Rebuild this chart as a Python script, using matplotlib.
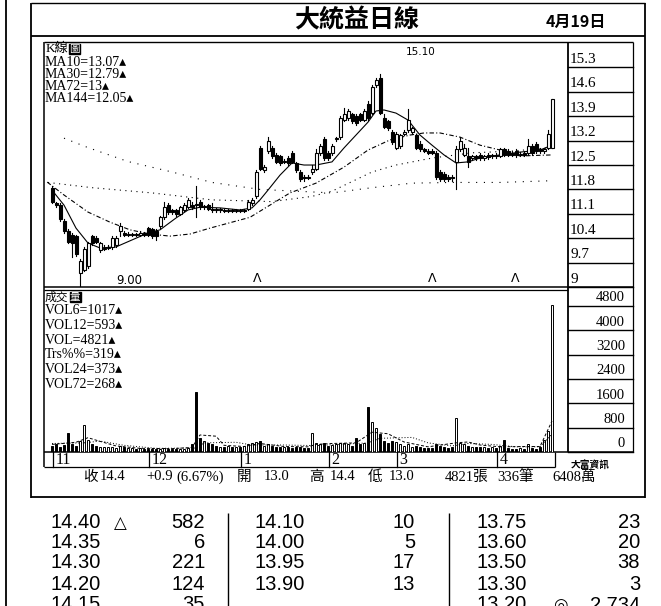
import matplotlib
matplotlib.use("Agg")
import matplotlib.pyplot as plt
from matplotlib.transforms import blended_transform_factory

# daily candles, Nov .. Apr 19
OPEN = [11.85, 11.40, 11.35, 10.90, 10.60, 10.50, 10.45, 9.40, 9.50, 9.60,
        10.45, 10.40, 10.05, 10.10, 10.12, 10.15, 10.20, 10.60, 10.55, 10.50,
        10.50, 10.52, 10.50, 10.55, 10.70, 10.65, 10.60, 10.75, 11.00, 11.35,
        11.20, 11.22, 11.10, 11.20, 11.30, 11.35, 11.38, 11.45, 11.30, 11.35,
        11.25, 11.22, 11.20, 11.22, 11.18, 11.20, 11.18, 11.20, 11.17, 11.25,
        11.40, 11.60, 13.00, 12.35, 12.90, 13.00, 12.80, 12.75, 12.60, 12.70,
        12.85, 12.55, 12.30, 12.15, 12.15, 12.30, 12.40, 12.85, 13.25, 12.85,
        12.85, 13.25, 13.30, 13.80, 13.85, 13.95, 13.90, 13.95, 13.80, 14.25,
        14.00, 14.80, 15.00, 13.85, 13.75, 13.45, 13.00, 13.05, 13.40, 13.50,
        13.45, 13.35, 13.10, 12.95, 12.90, 12.90, 12.85, 12.30, 12.25, 12.15,
        12.15, 12.60, 12.95, 12.80, 12.75, 12.70, 12.75, 12.80, 12.70, 12.80,
        12.75, 12.80, 12.75, 12.95, 12.90, 12.85, 12.90, 12.80, 12.85, 12.85,
        13.05, 13.10, 12.95, 12.90, 13.00, 13.00]
HIGH = [11.90, 11.45, 11.40, 10.95, 10.65, 10.55, 10.50, 9.80, 10.15, 10.30,
        10.50, 10.45, 10.30, 10.20, 10.20, 10.45, 10.45, 10.85, 10.60, 10.58,
        10.56, 10.56, 10.60, 10.58, 10.72, 10.70, 10.65, 11.05, 11.45, 11.40,
        11.25, 11.25, 11.32, 11.40, 11.55, 11.45, 11.90, 11.50, 11.35, 11.38,
        11.40, 11.26, 11.26, 11.25, 11.24, 11.23, 11.24, 11.23, 11.24, 11.50,
        11.55, 12.35, 13.05, 12.50, 13.30, 13.05, 12.85, 12.80, 12.66, 12.75,
        12.90, 12.60, 12.35, 12.20, 12.20, 12.50, 12.95, 13.10, 13.30, 12.90,
        13.10, 13.30, 13.90, 14.15, 14.10, 14.00, 13.95, 14.00, 14.10, 14.35,
        14.80, 15.00, 15.10, 13.95, 13.80, 13.50, 13.45, 13.40, 13.50, 14.10,
        13.60, 13.40, 13.20, 13.00, 12.95, 12.95, 12.90, 12.35, 12.30, 12.20,
        12.20, 13.05, 13.30, 13.10, 13.00, 12.80, 12.80, 12.85, 12.80, 12.85,
        12.82, 12.85, 13.00, 13.00, 12.95, 12.90, 12.95, 12.88, 12.90, 13.25,
        13.10, 13.15, 13.00, 13.00, 13.50, 14.40]
LOW = [11.40, 11.30, 10.90, 10.55, 10.25, 9.85, 9.90, 9.00, 9.45, 9.55,
       10.20, 10.25, 10.00, 10.05, 10.10, 10.10, 10.15, 10.45, 10.45, 10.45,
       10.46, 10.46, 10.46, 10.46, 10.45, 10.40, 10.35, 10.70, 10.95, 11.10,
       11.10, 11.05, 11.08, 11.18, 11.28, 11.25, 11.00, 11.25, 11.25, 11.22,
       11.15, 11.16, 11.16, 11.15, 11.15, 11.14, 11.15, 11.14, 11.14, 11.20,
       11.35, 11.55, 12.35, 12.30, 12.85, 12.70, 12.55, 12.50, 12.55, 12.50,
       12.55, 12.30, 12.05, 12.05, 12.10, 12.25, 12.35, 12.80, 12.65, 12.65,
       12.80, 13.20, 13.25, 13.75, 13.80, 13.70, 13.65, 13.75, 13.75, 13.80,
       13.95, 14.75, 13.95, 13.55, 13.50, 13.10, 12.95, 13.00, 13.35, 13.45,
       13.40, 12.95, 12.90, 12.88, 12.82, 12.82, 12.10, 12.05, 12.05, 12.05,
       12.05, 11.80, 12.90, 12.75, 12.45, 12.65, 12.65, 12.65, 12.65, 12.68,
       12.70, 12.70, 12.72, 12.75, 12.75, 12.75, 12.72, 12.75, 12.75, 12.80,
       12.80, 12.85, 12.85, 12.85, 12.95, 13.00]
CLOSE = [11.45, 11.35, 10.95, 10.60, 10.30, 10.25, 9.95, 9.75, 10.10, 10.25,
         10.25, 10.30, 10.25, 10.12, 10.15, 10.40, 10.40, 10.75, 10.50, 10.52,
         10.52, 10.50, 10.55, 10.50, 10.50, 10.45, 10.45, 11.00, 11.30, 11.15,
         11.15, 11.10, 11.30, 11.35, 11.50, 11.30, 11.35, 11.30, 11.32, 11.25,
         11.22, 11.20, 11.22, 11.18, 11.20, 11.18, 11.20, 11.17, 11.20, 11.45,
         11.50, 12.30, 12.40, 12.45, 13.20, 12.75, 12.60, 12.55, 12.60, 12.55,
         12.60, 12.35, 12.10, 12.12, 12.12, 12.40, 12.85, 13.05, 12.70, 12.70,
         13.05, 13.25, 13.85, 13.95, 14.05, 13.75, 13.70, 13.80, 14.05, 13.85,
         14.75, 14.95, 14.00, 13.60, 13.55, 13.15, 13.40, 13.35, 13.45, 13.80,
         13.55, 13.00, 12.95, 12.90, 12.85, 12.85, 12.15, 12.10, 12.10, 12.10,
         12.12, 12.95, 13.20, 13.00, 12.60, 12.75, 12.70, 12.70, 12.75, 12.72,
         12.78, 12.75, 12.95, 12.80, 12.80, 12.80, 12.78, 12.82, 12.80, 13.05,
         12.85, 12.90, 12.90, 12.95, 13.40, 14.40]
VOLUME = [200, 250, 180, 220, 620, 250, 200, 350, 880, 400,
          250, 200, 180, 150, 150, 170, 140, 200, 150, 130,
          120, 110, 120, 100, 110, 100, 90, 110, 120, 100,
          90, 100, 90, 110, 120, 250, 1970, 450, 350, 300,
          250, 200, 180, 160, 200, 150, 180, 170, 200, 250,
          300, 330, 350, 200, 250, 200, 180, 150, 160, 170,
          140, 150, 170, 130, 140, 620, 300, 250, 280, 200,
          220, 250, 300, 280, 250, 200, 460, 250, 300, 1480,
          1000, 800, 600, 350, 300, 350, 330, 250, 200, 250,
          180, 200, 150, 140, 130, 120, 250, 200, 150, 140,
          180, 1120, 300, 250, 200, 180, 150, 170, 160, 140,
          150, 130, 200, 400, 120, 100, 110, 130, 100, 260,
          120, 100, 150, 400, 700, 4821]

# moving averages (bar index, value)
MA10_IDX = [0, 3, 6, 9, 12, 16, 20, 24, 27, 31, 34, 37, 42, 47, 50, 52, 54, 57, 60,
            63, 66, 70, 73, 76, 79, 81, 83, 86, 89, 92, 95, 98, 101, 104, 107, 112,
            117, 122, 125]
MA10_VAL = [11.78, 11.35, 10.69, 10.26, 10.12, 10.15, 10.35, 10.55, 10.64, 10.98,
            11.21, 11.29, 11.27, 11.21, 11.27, 11.50, 11.78, 12.21, 12.56, 12.50,
            12.50, 12.59, 12.99, 13.36, 13.73, 14.05, 14.08, 13.99, 13.79, 13.36,
            13.07, 12.79, 12.56, 12.59, 12.70, 12.79, 12.87, 12.93, 13.07]
MA30_IDX = [-1.2, 3, 9, 14.5, 19.5, 24.5, 29.5, 34.5, 39.5, 45, 49.5, 54.5, 59.5,
            66, 73, 79, 84.5, 89.5, 93, 97, 102, 107, 112, 117, 125]
MA30_VAL = [12.01, 11.64, 11.15, 10.86, 10.64, 10.52, 10.46, 10.52, 10.69, 10.86,
            11.00, 11.35, 11.70, 11.98, 12.44, 12.93, 13.22, 13.36, 13.42, 13.42,
            13.30, 13.07, 12.93, 12.76, 12.79]
MA72_IDX = [-1, 10, 25, 40, 55, 65, 70, 80, 86, 95, 105, 115, 125]
MA72_VAL = [12.00, 11.85, 11.70, 11.50, 11.45, 11.60, 11.75, 12.30, 12.50, 12.70,
            12.85, 12.90, 13.00]
MA144_IDX = [3, 9, 19, 30, 40, 52, 70, 80, 90, 100, 112, 125]
MA144_VAL = [13.27, 13.00, 12.60, 12.30, 12.00, 11.80, 11.70, 11.85, 11.98, 12.00,
             12.00, 12.05]
VOL6_IDX = [0, 6, 9, 12, 16, 22, 30, 35, 37, 41, 43, 48, 52, 58, 64, 66, 70, 76, 80,
            84, 88, 94, 101, 104, 107, 112, 118, 122, 125]
VOL6_VAL = [250, 320, 470, 350, 200, 120, 110, 150, 560, 520, 220, 180, 280, 180,
            170, 250, 280, 300, 650, 600, 330, 170, 300, 330, 230, 170, 180, 180, 1017]
VOL12_IDX = [0, 8, 12, 18, 26, 36, 38, 46, 50, 58, 66, 72, 79, 82, 90, 94, 100, 104,
             110, 116, 122, 125]
VOL12_VAL = [280, 300, 360, 220, 120, 130, 300, 320, 230, 230, 210, 250, 300, 450,
             480, 300, 200, 280, 250, 170, 170, 593]

PRICE_TICKS = [9, 9.7, 10.4, 11.1, 11.8, 12.5, 13.2, 13.9, 14.6, 15.3]
PRICE_TICK_LABELS = ["9", "9.7", "10.4", "11.1", "11.8", "12.5", "13.2", "13.9", "14.6", "15.3"]
VOL_TICKS = [0, 800, 1600, 2400, 3200, 4000, 4800]
MONTH_LABELS = ["11", "12", "1", "2", "3", "4"]
MONTH_START = [0, 24, 47, 69, 86, 111]

MA_LEGEND = ["MA10=13.07▴", "MA30=12.79▴", "MA72=13▴", "MA144=12.05▴"]
VOL_LEGEND = ["VOL6=1017▴", "VOL12=593▴", "VOL=4821▴", "Trs%%=319▴", "VOL24=373▴", "VOL72=268▴"]

# bid / ask book under the chart (last row is cut by the page edge)
BOOK_PRICE_1 = ["14.40", "14.35", "14.30", "14.20", "14.15"]
BOOK_QTY_1 = ["582", "6", "221", "124", "35"]
BOOK_PRICE_2 = ["14.10", "14.00", "13.95", "13.90", ""]
BOOK_QTY_2 = ["10", "5", "17", "13", ""]
BOOK_PRICE_3 = ["13.75", "13.60", "13.50", "13.30", "13.20"]
BOOK_QTY_3 = ["23", "20", "38", "3", "2,734"]

SERIF = ["Liberation Serif", "Noto Sans CJK TC", "DejaVu Sans"]
CJK = ["Noto Sans CJK TC", "DejaVu Sans"]
W, H = 661, 606

fig = plt.figure(figsize=(W / 100, H / 100), dpi=100, facecolor="white")
bg = fig.add_axes([0, 0, 1, 1])
bg.set_xlim(0, W)
bg.set_ylim(H, 0)
bg.axis("off")


def pxAxes(left, top, right, bottom):
    ax = fig.add_axes([left / W, 1 - bottom / H, (right - left) / W, (bottom - top) / H])
    ax.patch.set_alpha(0)
    for s in ax.spines.values():
        s.set_visible(False)
    ax.set_xticks([])
    ax.set_yticks([])
    return ax


def hline(y, x0, x1, lw=1.1):
    bg.plot([x0, x1], [y, y], color="black", lw=lw, solid_capstyle="butt")


def vline(x, y0, y1, lw=1.1):
    bg.plot([x, x], [y0, y1], color="black", lw=lw, solid_capstyle="butt")


# frames
vline(6, 0, H, 1.3)
hline(3, 31, 645, 1.0)
vline(31, 3, 498, 1.3)
vline(645, 3, 498, 1.3)
hline(497, 31, 645, 1.3)
hline(36, 31, 645, 1.3)
hline(42, 44, 633, 1.0)
vline(44, 42, 467)
vline(568, 42, 452, 1.3)
vline(633, 42, 452, 0.9)
hline(287, 44, 633)
hline(290, 44, 568, 0.9)
hline(452, 44, 633)
hline(467, 44, 555, 0.9)
vline(555, 452, 467, 0.9)

bg.text(357, 20, "大統益日線", family=CJK, fontsize=18, fontweight="bold", ha="center", va="center")
bg.text(576, 22, "4月19日", family=CJK, fontsize=11.5, fontweight="bold", ha="center", va="center")

# price panel
pax = pxAxes(44, 42, 568, 287)
pax.set_xlim(-2, 129)
pax.set_ylim(9.0, 16.03)
for i, (o, h, l, c) in enumerate(zip(OPEN, HIGH, LOW, CLOSE)):
    pax.plot([i, i], [l, h], color="black", lw=0.8, zorder=2)
    body = max(abs(c - o), 0.025)
    if c >= o:
        pax.bar(i, body, bottom=min(o, c), width=0.75, facecolor="white",
                edgecolor="black", linewidth=0.8, zorder=3)
    else:
        pax.bar(i, body, bottom=c, width=0.75, facecolor="black",
                edgecolor="black", linewidth=0.8, zorder=3)
pax.plot(MA10_IDX, MA10_VAL, color="black", lw=0.8, zorder=1)
pax.plot(MA30_IDX, MA30_VAL, color="black", lw=0.8, ls=(0, (4, 2, 1, 2)), zorder=1)
pax.plot(MA72_IDX, MA72_VAL, color="black", lw=0.8, ls=(0, (1, 4)), zorder=1)
pax.plot(MA144_IDX, MA144_VAL, color="black", lw=0.8, ls=(0, (1, 6)), zorder=1)

ptrans = pax.get_yaxis_transform()
for v, lab in zip(PRICE_TICKS, PRICE_TICK_LABELS):
    pax.plot([1.0, 1.124], [v, v], color="black", lw=1.0, transform=ptrans, clip_on=False)
    pax.text(1.004, v + 0.04, lab, transform=ptrans, family=SERIF, fontsize=11,
             ha="left", va="bottom")

bg.text(46, 49, "K線", family=SERIF, fontsize=9.5, va="center", ha="left")
bg.text(69, 49, "圖", family=CJK, fontsize=7.5, va="center", ha="left",
        color="white", bbox=dict(boxstyle="square,pad=0.02", fc="black", ec="black"))
for k, s in enumerate(MA_LEGEND):
    bg.text(45, 63 + k * 12, s, family=SERIF, fontsize=10, va="center", ha="left")
bg.text(421, 52, "15.10", fontsize=7.5, ha="center", va="center", family="DejaVu Sans")
bg.text(129, 280, "9.00", fontsize=8.5, ha="center", va="center", family="DejaVu Sans")
for xm in (257, 432, 515):
    bg.text(xm, 279, "Λ", fontsize=9, ha="center", va="center", family="DejaVu Sans")

# volume panel
vax = pxAxes(44, 289, 568, 452)
vax.set_xlim(-2, 129)
vax.set_ylim(0, 5359)
for i, (o, c, v) in enumerate(zip(OPEN, CLOSE, VOLUME)):
    fc = "white" if c >= o else "black"
    vax.bar(i, v, width=0.6, facecolor=fc, edgecolor="black", linewidth=0.7)
vax.plot(VOL6_IDX, VOL6_VAL, color="black", lw=0.7, ls=(0, (3, 2)))
vax.plot(VOL12_IDX, VOL12_VAL, color="black", lw=0.7, ls=(0, (1, 2)))

vtrans = vax.get_yaxis_transform()
for v in VOL_TICKS:
    vax.plot([1.0, 1.124], [v, v], color="black", lw=1.0, transform=vtrans, clip_on=False)
    vax.text(1.109, v + 60, str(v), transform=vtrans, family=SERIF, fontsize=10.5,
             ha="right", va="bottom")

bg.text(45, 297, "成交", family=CJK, fontsize=8.5, va="center", ha="left")
bg.text(70, 297, "量", family=CJK, fontsize=7.5, va="center", ha="left",
        color="white", bbox=dict(boxstyle="square,pad=0.02", fc="black", ec="black"))
for k, s in enumerate(VOL_LEGEND):
    bg.text(45, 311 + k * 14.6, s, family=SERIF, fontsize=10, va="center", ha="left")

mtrans = blended_transform_factory(vax.transData, vax.transAxes)
for lab, i in zip(MONTH_LABELS, MONTH_START):
    vax.plot([i + 0.3, i + 0.3], [0, -0.092], color="black", lw=0.9, transform=mtrans,
             clip_on=False)
    vax.text(i + 0.9, -0.05, lab, transform=mtrans, family=SERIF, fontsize=11.5,
             ha="left", va="center")

bg.text(590, 465, "大富資訊", family=CJK, fontsize=7, fontweight="bold", ha="center", va="center")

# quote line
QUOTE = [(83, "收"), (100, "14.4"), (146, "+0.9"), (176, "(6.67%)"), (237, "開"),
         (264, "13.0"), (309, "高"), (330, "14.4"), (368, "低"), (389, "13.0"),
         (445, "4821張"), (497, "336筆"), (552, "6408萬")]
for x, s in QUOTE:
    bg.text(x, 477, s, family=SERIF, fontsize=10.5, ha="left", va="center")

# bid / ask table
ROW_Y = [523, 543, 563, 584, 605]
TABLE = "Liberation Sans"
for y, p, q in zip(ROW_Y, BOOK_PRICE_1, BOOK_QTY_1):
    bg.text(50, y, p, family=TABLE, fontsize=14.5, ha="left", va="center")
    bg.text(205, y, q, family=TABLE, fontsize=14.5, ha="right", va="center")
for y, p, q in zip(ROW_Y, BOOK_PRICE_2, BOOK_QTY_2):
    bg.text(255, y, p, family=TABLE, fontsize=14.5, ha="left", va="center")
    bg.text(415, y, q, family=TABLE, fontsize=14.5, ha="right", va="center")
for y, p, q in zip(ROW_Y, BOOK_PRICE_3, BOOK_QTY_3):
    bg.text(476, y, p, family=TABLE, fontsize=14.5, ha="left", va="center")
    bg.text(640, y, q, family=TABLE, fontsize=14.5, ha="right", va="center")
bg.text(120, ROW_Y[0], "△", family=["DejaVu Sans"], fontsize=12, ha="center", va="center")
bg.text(560, ROW_Y[4], "◎", family=["DejaVu Sans"], fontsize=12, ha="center", va="center")
vline(228, 513, H, 1.0)
vline(449, 513, H, 1.0)

fig.savefig("out.png", dpi=100, facecolor="white")
